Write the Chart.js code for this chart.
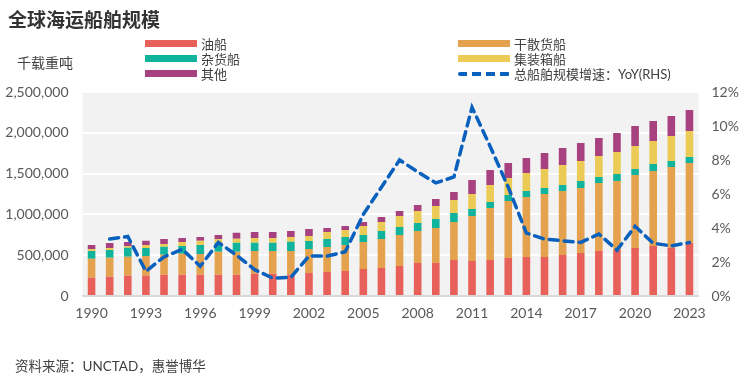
<!DOCTYPE html>
<html>
<head>
<meta charset="utf-8">
<script src="https://cdn.jsdelivr.net/npm/chart.js@4/dist/chart.umd.min.js"></script>
<style>
  body { margin: 0; background: #fff; font-family: Lato, "Noto Sans CJK SC", sans-serif; color: #404040; }
  #wrap { position: relative; width: 750px; height: 376px; overflow: hidden; }
  #c { position: absolute; left: 0; top: 0; }
  .title { position: absolute; left: 8px; top: 5px; font-size: 19px; font-weight: bold; color: #333; font-family: "Noto Sans CJK SC", sans-serif; }
  .unit { position: absolute; left: 17px; top: 52px; font-size: 14px; }
  .source { position: absolute; left: 15px; top: 355px; font-size: 13.5px; }
  #legend { position: absolute; left: 145px; top: 36px; display: grid; grid-template-columns: 313px 260px; grid-auto-rows: 15px; font-size: 13px; }
  .item { display: flex; align-items: center; white-space: nowrap; }
  .sw { width: 52px; height: 7px; margin-right: 4px; }
  .dash { width: 52px; height: 4px; margin-right: 4px; border-radius: 2px;
          background: repeating-linear-gradient(to right, #0a60bd 0 9px, transparent 9px 14px); }
</style>
</head>
<body>
<div id="wrap">
  <canvas id="c" width="750" height="376"></canvas>
  <div class="title">全球海运船舶规模</div>
  <div class="unit">千载重吨</div>
  <div id="legend"></div>
  <div class="source">资料来源：UNCTAD，惠誉博华</div>
</div>
<script>
// years on the x axis
var years = [];
for (var y = 1990; y <= 2023; y++) years.push(String(y));

// fleet by ship type, thousand dwt
var oil = [224000, 236000, 249000, 249000, 261000, 261000, 261000, 261000, 261000, 273000,
           273000, 265000, 282000, 294000, 306000, 331000, 343000, 368000, 404000, 404000,
           441000, 429000, 441000, 466000, 478000, 478000, 502000, 527000, 551000, 564000,
           588000, 613000, 592000, 650000];
var bulk = [233000, 233000, 233000, 241000, 245000, 257000, 254000, 282000, 282000, 278000,
            278000, 286000, 294000, 306000, 319000, 331000, 356000, 380000, 393000, 429000,
            466000, 551000, 637000, 698000, 735000, 772000, 785000, 797000, 834000, 845000,
            895000, 919000, 989000, 980000];
var general = [94000, 95000, 110000, 98000, 98000, 95000, 110000, 102000, 110000, 102000,
               102000, 115000, 98000, 99000, 98000, 86000, 98000, 98000, 98000, 111000,
               110000, 86000, 74000, 74000, 74000, 74000, 73000, 85000, 73000, 86000,
               73000, 86000, 73000, 73000];
var container = [25000, 24000, 21000, 37000, 33000, 49000, 53000, 50000, 49000, 58000,
                 58000, 57000, 61000, 85000, 86000, 110000, 110000, 134000, 147000, 159000,
                 159000, 184000, 208000, 208000, 220000, 232000, 245000, 245000, 258000, 270000,
                 282000, 282000, 307000, 319000];
var other = [49000, 62000, 49000, 53000, 62000, 49000, 45000, 53000, 74000, 73000,
             73000, 74000, 86000, 49000, 49000, 49000, 61000, 62000, 73000, 86000,
             99000, 172000, 184000, 184000, 184000, 196000, 209000, 221000, 220000, 233000,
             245000, 245000, 245000, 257000];
// total fleet growth, % yoy (right axis)
var yoy = [null, 3.35, 3.5, 1.45, 2.3, 2.75, 1.75, 3.15, 2.4, 1.55,
           1.05, 1.1, 2.35, 2.35, 2.6, 4.8, 6.4, 8.0, 7.3, 6.65,
           7.0, 11.1, 8.8, 6.4, 3.7, 3.35, 3.25, 3.15, 3.65, 2.7,
           4.1, 3.1, 2.95, 3.15];

var tickFont = { family: 'Lato, "Noto Sans CJK SC", sans-serif', size: 14 };

// grey plot background
var plotBg = {
  id: 'plotBg',
  beforeDraw: function(chart) {
    var a = chart.chartArea, ctx = chart.ctx;
    ctx.save();
    ctx.fillStyle = '#f2f2f2';
    ctx.fillRect(a.left, a.top, a.right - a.left, a.bottom - a.top);
    ctx.restore();
  }
};

function bar(label, data, color) {
  return { type: 'bar', label: label, data: data, backgroundColor: color, yAxisID: 'y', order: 1,
           barPercentage: 0.42, categoryPercentage: 1 };
}

var chart = new Chart(document.getElementById('c'), {
  data: {
    labels: years,
    datasets: [
      bar('油船', oil, '#e8605a'),
      bar('干散货船', bulk, '#e5a24e'),
      bar('杂货船', general, '#10b39b'),
      bar('集装箱船', container, '#ebcb55'),
      bar('其他', other, '#a8417f'),
      {
        type: 'line', label: '总船舶规模增速：YoY(RHS)', data: yoy, yAxisID: 'y1', order: 0,
        borderColor: '#0a60bd', borderWidth: 3.5, borderDash: [9, 6], borderCapStyle: 'round',
        pointRadius: 0, tension: 0, fill: false
      }
    ]
  },
  options: {
    responsive: false,
    animation: false,
    layout: { padding: { left: 0, right: 0, top: 92, bottom: 50 } },
    plugins: { legend: { display: false }, tooltip: { enabled: false } },
    scales: {
      x: {
        stacked: true,
        grid: { display: false, drawTicks: false },
        border: { display: true, color: '#d9d9d9', width: 2 },
        ticks: {
          autoSkip: false, maxRotation: 0, padding: 9, color: '#595959', font: tickFont,
          callback: function(v, i) { return i % 3 === 0 ? years[i] : ''; }
        },
        afterFit: function(s) { s.height = 30; }
      },
      y: {
        stacked: true, position: 'left', min: 0, max: 2500000,
        grid: { color: '#ffffff', lineWidth: 2, drawTicks: false },
        border: { display: false },
        ticks: {
          stepSize: 500000, padding: 14, color: '#595959', font: tickFont,
          callback: function(v) { return v.toLocaleString('en-US'); }
        },
        afterFit: function(s) { s.width = 82.5; }
      },
      y1: {
        position: 'right', min: 0, max: 12,
        grid: { display: false, drawTicks: false },
        border: { display: false },
        ticks: {
          stepSize: 2, padding: 13, color: '#595959', font: tickFont,
          callback: function(v) { return v + '%'; }
        },
        afterFit: function(s) { s.width = 51.5; }
      }
    }
  },
  plugins: [plotBg]
});

// html legend in two columns, built from the datasets
var legend = document.getElementById('legend');
chart.data.datasets.forEach(function(ds) {
  var item = document.createElement('div');
  item.className = 'item';
  var sw = document.createElement('span');
  if (ds.type === 'line') {
    sw.className = 'dash';
  } else {
    sw.className = 'sw';
    sw.style.background = ds.backgroundColor;
  }
  item.appendChild(sw);
  item.appendChild(document.createTextNode(ds.label));
  legend.appendChild(item);
});
</script>
</body>
</html>
